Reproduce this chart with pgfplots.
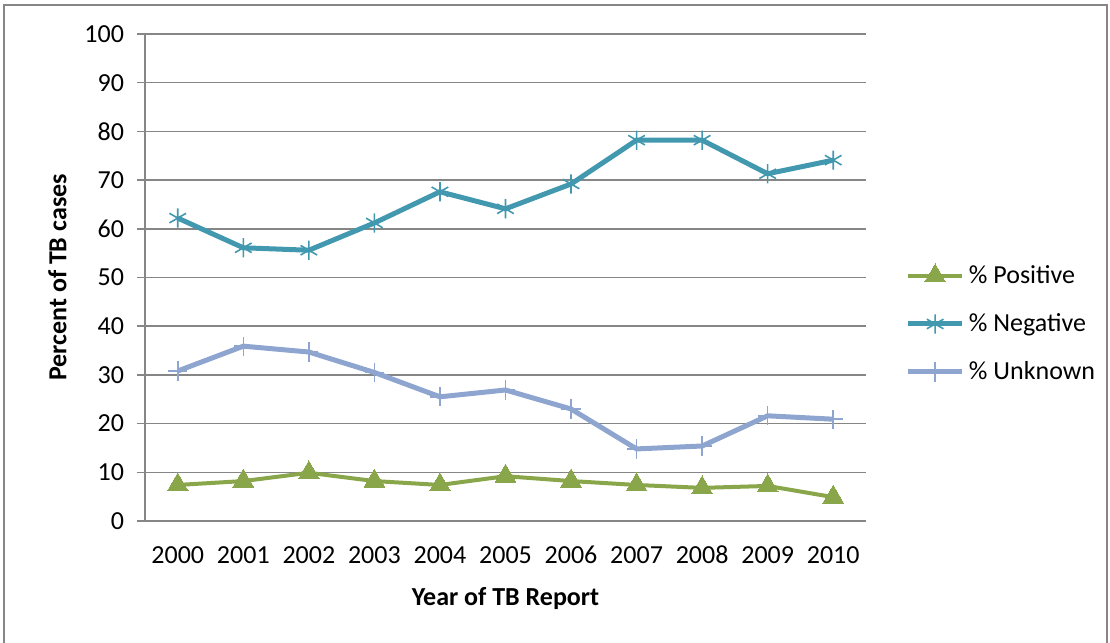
\documentclass[border=0pt]{standalone}
\usepackage{pgfplots}
\pgfplotsset{compat=1.18}
\usepackage{fontspec}
\setmainfont{Carlito}
\definecolor{cpos}{RGB}{138,166,74}
\definecolor{cneg}{RGB}{65,152,175}
\definecolor{cunk}{RGB}{142,165,207}
\definecolor{cgrid}{RGB}{134,134,134}
\begin{document}
\begin{tikzpicture}
\useasboundingbox (-72.5pt,-61pt) rectangle (482.5pt,260.5pt);
\draw[cgrid, line width=0.8pt] (-70.5pt,-61pt) -- (-70.5pt,258pt) -- (481pt,258pt) -- (481pt,-61pt);
\begin{axis}[
  name=ax,
  at={(0,0)}, anchor=south west,
  scale only axis,
  width=360.5pt, height=243.5pt,
  xmin=-0.5, xmax=10.5,
  ymin=0, ymax=100,
  xtick={0,...,10},
  xticklabels={2000,2001,2002,2003,2004,2005,2006,2007,2008,2009,2010},
  ytick={0,10,...,100},
  ymajorgrids,
  major grid style={cgrid, line width=0.8pt},
  axis x line*=bottom, axis y line*=left,
  axis line style={cgrid, line width=0.8pt, -},
  x tick style={draw=none},
  y tick style={cgrid, line width=0.8pt},
  tick align=outside,
  major tick length=4pt,
  ticklabel style={font=\fontsize{13}{15}\selectfont},
  /pgf/number format/assume math mode=true,
  xticklabel style={yshift=-6.5pt, text height=1.5ex, text depth=0pt},
  yticklabel style={xshift=-3pt},
  xlabel={\textbf{Year of TB Report}},
  ylabel={\textbf{Percent of TB cases}},
  label style={font=\fontsize{13}{15}\selectfont},
  xlabel style={yshift=-5pt},
  ylabel style={yshift=2pt},
  legend style={at={(1.054,0.4045)}, anchor=west, draw=none, fill=none,
    font=\fontsize{13}{15}\selectfont, row sep=9.5pt, inner sep=0pt},
  legend cell align=left,
  legend image code/.code={%
    \draw[#1, mark repeat=2, mark phase=2] plot coordinates {(0cm,0cm) (0.48cm,0cm) (0.96cm,0cm)};},
]
\addplot[cpos, line width=2pt, mark=triangle*, mark size=6pt, mark options={solid, line width=0pt, fill=cpos}]
 coordinates {(0,7.4) (1,8.2) (2,9.9) (3,8.2) (4,7.4) (5,9.2) (6,8.2) (7,7.4) (8,6.8) (9,7.2) (10,4.9)};
\addlegendentry{\% Positive}
\addplot[cneg, line width=2.5pt, mark=asterisk, mark size=4.8pt, mark options={solid, line width=0.8pt}]
 coordinates {(0,62.2) (1,56.1) (2,55.6) (3,61.2) (4,67.6) (5,64.1) (6,69.2) (7,78.2) (8,78.2) (9,71.3) (10,74.1)};
\addlegendentry{\% Negative}
\addplot[cunk, line width=2.5pt, mark=+, mark size=4.8pt, mark options={solid, line width=0.8pt}]
 coordinates {(0,30.8) (1,35.9) (2,34.7) (3,30.5) (4,25.5) (5,26.9) (6,23.0) (7,14.8) (8,15.4) (9,21.6) (10,20.9)};
\addlegendentry{\% Unknown}
\end{axis}
\end{tikzpicture}
\end{document}
